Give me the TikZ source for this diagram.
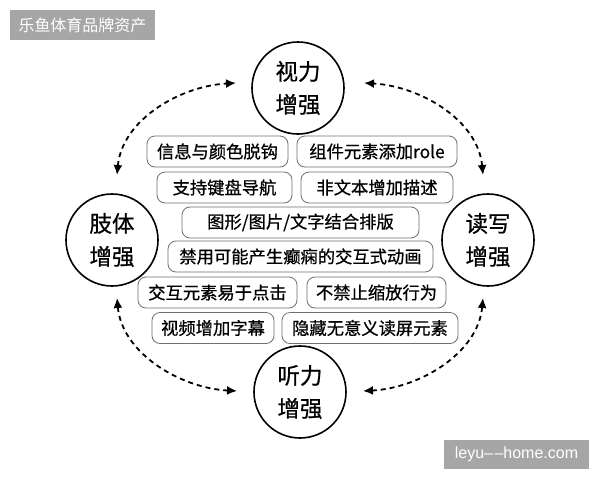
\documentclass[tikz,border=0pt]{standalone}
\usepackage{fontspec}
\setmainfont{Noto Sans CJK SC}
\newfontfamily\heavycjk[FakeBold=0.7]{Noto Sans CJK SC}
\newfontfamily\latinsans{Liberation Sans}
\usetikzlibrary{arrows.meta}
\definecolor{badgegray}{HTML}{A6A6A6}
\definecolor{tagborder}{HTML}{707070}
\begin{document}
\begin{tikzpicture}[x=1pt,y=-1pt,
  circ/.style={circle,draw,line width=1.6pt,minimum size=92pt,inner sep=0pt,align=center,font=\heavycjk\fontsize{22.5}{33}\selectfont},
  tag/.style={rectangle,draw=tagborder,line width=0.8pt,rounded corners=8pt,minimum height=31pt,inner sep=0pt,font=\heavycjk\fontsize{17.3}{20}\selectfont},
  link/.style={line width=1.8pt,dash pattern=on 5pt off 4pt,{Latex[length=10pt,width=9pt]}-{Latex[length=10pt,width=9pt]}},
  badge/.style={fill=badgegray,text=white,inner sep=0pt,minimum height=30pt,minimum width=145pt}
]
\useasboundingbox[fill=white] (0,0) rectangle (600,480);

% badges
\node[badge,font=\fontsize{16}{18}\selectfont] (brand) at (82.5,25) {乐鱼体育品牌资产};
\node[badge,minimum height=29pt,font=\latinsans\fontsize{16}{18}\selectfont] (site) at (516.5,454.5) {leyu–\kern1.5pt–home.com};

% circles
\node[circ] (vis) at (298,88) {视力\\增强};
\node[circ] (body) at (112,240) {肢体\\增强};
\node[circ] (rw) at (488,240) {读写\\增强};
\node[circ] (hear) at (300,392) {听力\\增强};

% tags
\node[tag,minimum width=141pt] (t1) at (217.5,151.5) {信息与颜色脱钩};
\node[tag,minimum width=160pt] (t2) at (377,151.5) {组件元素添加role};
\node[tag,minimum width=135pt] (t3) at (224.5,187.5) {支持键盘导航};
\node[tag,minimum width=152pt] (t4) at (377,187.5) {非文本增加描述};
\node[tag,minimum width=237pt] (t5) at (300.5,222.5) {图形/图片/文字结合排版};
\node[tag,minimum width=265pt] (t6) at (300.5,256.5) {禁用可能产生癫痫的交互式动画};
\node[tag,minimum width=159pt] (t7) at (217.5,292.5) {交互元素易于点击};
\node[tag,minimum width=139pt] (t8) at (376.5,292.5) {不禁止缩放行为};
\node[tag,minimum width=122pt] (t9) at (213,328) {视频增加字幕};
\node[tag,minimum width=176pt] (t10) at (370,328) {隐藏无意义读屏元素};

% arrow ends
\coordinate (tlA) at (236,83);
\coordinate (tlB) at (117,175);
\coordinate (trA) at (364,83);
\coordinate (trB) at (483,175);
\coordinate (blA) at (117,298);
\coordinate (blB) at (237,391);
\coordinate (brA) at (483,298);
\coordinate (brB) at (363,391);

\draw[link] (tlB) .. controls (122,120) and (180,86) .. (tlA);
\draw[link] (trB) .. controls (478,120) and (420,86) .. (trA);
\draw[link] (blA) .. controls (122,353) and (180,388) .. (blB);
\draw[link] (brA) .. controls (478,353) and (420,388) .. (brB);
\end{tikzpicture}
\end{document}
